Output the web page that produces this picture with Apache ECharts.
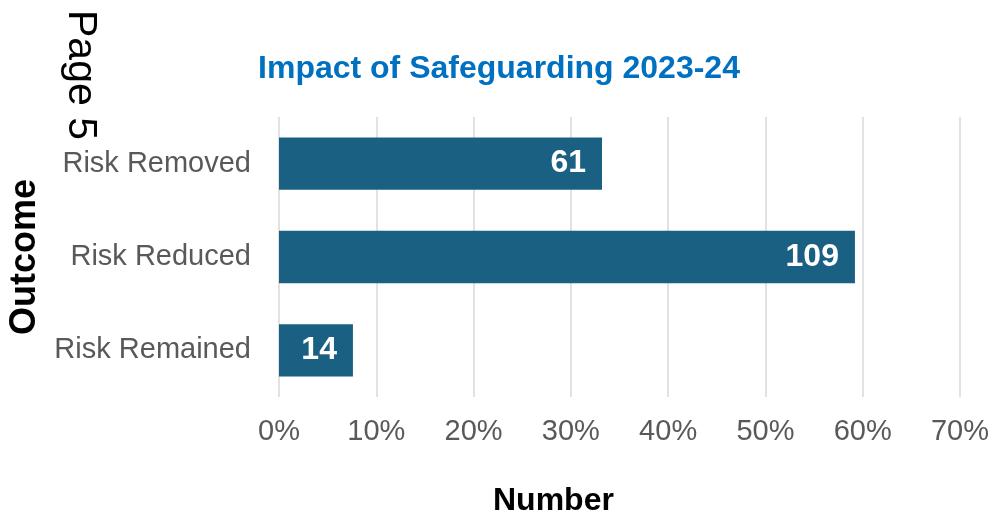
<!DOCTYPE html>
<html>
<head>
<meta charset="utf-8">
<script src="https://cdn.jsdelivr.net/npm/echarts@6/dist/echarts.min.js"></script>
<style>
  html, body { margin: 0; padding: 0; background: #fff; }
  #chart { width: 993px; height: 517px; }
</style>
</head>
<body>
<div id="chart"></div>
<script>
  // outcomes, counts and their share of the total (percent)
  var categories = ['Risk Remained', 'Risk Reduced', 'Risk Removed'];
  var counts = [14, 109, 61];
  var shares = [7.6, 59.2, 33.2];
  var tickMax = 70;
  var tickStep = 10;

  var font = 'Liberation Sans, Arial, sans-serif';
  var myChart = echarts.init(document.getElementById('chart'));
  var option = {
    animation: false,
    textStyle: { fontFamily: font },
    title: {
      text: 'Impact of Safeguarding 2023-24',
      left: 494,
      textAlign: 'center',
      top: 48,
      textStyle: { color: '#0070c0', fontSize: 32, fontWeight: 'bold', fontFamily: font }
    },
    graphic: [
      {
        type: 'text',
        left: 60,
        top: 10,
        rotation: -Math.PI / 2,
        style: { text: 'Page 5', fill: '#000', font: '41px ' + font }
      },
      {
        type: 'text',
        left: 493,
        top: 485,
        style: { text: 'Number', fill: '#000', font: 'bold 32px ' + font }
      }
    ],
    grid: { left: 279, right: 33, top: 117, bottom: 120, outerBoundsMode: 'none' },
    xAxis: {
      type: 'value',
      min: 0,
      max: tickMax,
      interval: tickStep,
      axisLine: { show: false },
      axisTick: { show: false },
      splitLine: { lineStyle: { color: '#d9d9d9', width: 1.5 } },
      axisLabel: {
        formatter: '{value}%',
        color: '#595959',
        fontSize: 29,
        margin: 20,
        fontFamily: font
      }
    },
    yAxis: {
      type: 'category',
      data: categories,
      name: 'Outcome',
      nameLocation: 'middle',
      nameGap: 236,
      nameTextStyle: { color: '#000', fontSize: 36, fontWeight: 'bold', fontFamily: font },
      axisLine: { show: false },
      axisTick: { show: false },
      axisLabel: { color: '#595959', fontSize: 29, margin: 28, fontFamily: font }
    },
    series: [{
      type: 'bar',
      data: shares,
      barCategoryGap: '44%',
      itemStyle: { color: '#1a6082' },
      label: {
        show: true,
        position: 'insideRight',
        distance: 16,
        color: '#fff',
        fontSize: 32,
        fontWeight: 'bold',
        fontFamily: font,
        formatter: function (p) { return counts[p.dataIndex]; }
      }
    }]
  };
  myChart.setOption(option);
</script>
</body>
</html>
